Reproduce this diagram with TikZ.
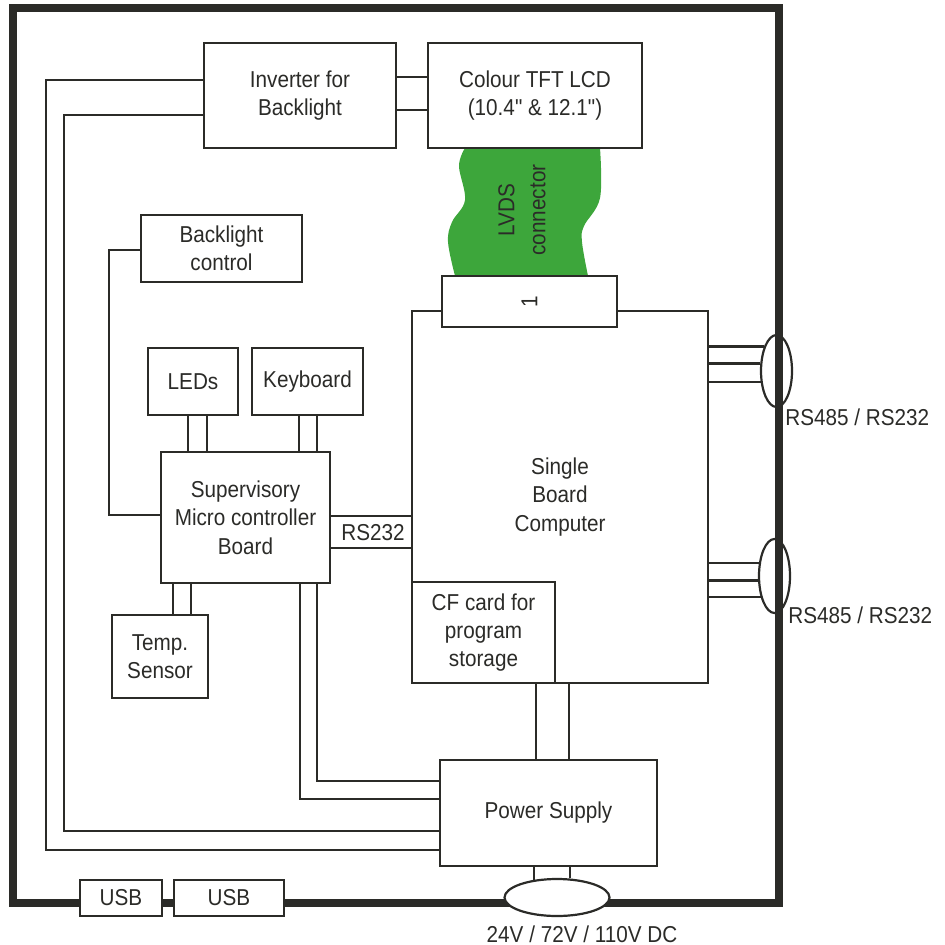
\documentclass[tikz,border=0pt]{standalone}
\usepackage{fontspec}
\setmainfont{Liberation Sans}[FakeStretch=0.9,Ligatures=TeXOff]
\usepackage{xcolor}
\usepackage{tikz}
\usetikzlibrary{positioning,shapes.geometric,calc}
\definecolor{ink}{RGB}{43,43,40}
\definecolor{lvdsgreen}{RGB}{61,166,59}
\tikzset{
block/.style={
draw=ink,
line width=1.1pt,
fill=white,
inner sep=0pt,
align=center,
text=ink,
font=\fontsize{11.5}{14.2}\selectfont
},
port/.style={
draw=ink,
line width=1.1pt,
ellipse,
inner sep=0pt
},
wire/.style={
draw=ink,
line width=1.1pt
},
frame/.style={
draw=ink,
line width=4pt
},
tag/.style={
text=ink,
inner sep=0pt,
align=center,
font=\fontsize{11.5}{14.2}\selectfont
}
}
\begin{document}
\begin{tikzpicture}[x=0.5pt,y=-0.5pt]
\useasboundingbox (0,0) rectangle (944,945);
\draw[frame] (13,8) rectangle (779,903);

\fill[lvdsgreen] plot[smooth,tension=0.6] coordinates {(465,148) (459,166) (465,200) (452,222) (448,242) (455,276)}
 -- plot[smooth,tension=0.6] coordinates {(588,276) (582,242) (584,226) (600,198) (600,148)} -- cycle;
\node[tag,rotate=90,font=\fontsize{11.5}{15.5}\selectfont] (lvds) at (522,210) {LVDS\\connector};

\node[block,minimum width=96pt,minimum height=52.5pt] (inv) at (300,95.5) {Inverter for\\Backlight};
\node[block,minimum width=107pt,minimum height=52.5pt] (lcd) at (535,95.5) {Colour TFT LCD\\(10.4" \& 12.1")};
\node[block,minimum width=80.5pt,minimum height=33.5pt] (blc) at (221.5,248.5) {Backlight\\control};
\node[block,minimum width=45pt,minimum height=33.5pt] (leds) at (193,381.5) {LEDs};
\node[block,minimum width=55.5pt,minimum height=33.5pt] (kbd) at (307.5,381.5) {Keyboard};
\node[block,minimum width=84.5pt,minimum height=65.5pt] (mcb) at (245.5,517.5) {Supervisory\\Micro controller\\Board};
\node[block,minimum width=48pt,minimum height=41.5pt] (temp) at (160,656.5) {Temp.\\Sensor};
\node[block,minimum width=148pt,minimum height=186pt] (sbc) at (560,497) {Single\\Board\\Computer};
\node[block,minimum width=71.5pt,minimum height=50.5pt] (cf) at (483.5,632.5) {CF card for\\program\\storage};
\node[block,minimum width=87.5pt,minimum height=25.5pt] (conn) at (529.5,301.5) {\rotatebox{90}{1}};
\node[block,minimum width=108.5pt,minimum height=53pt] (ps) at (548.5,813) {Power Supply};
\node[block,minimum width=41pt,minimum height=18pt] (usba) at (121,898) {USB};
\node[block,minimum width=55pt,minimum height=18pt] (usbb) at (229,898) {USB};

\node[port,minimum width=15.5pt,minimum height=36pt] (rsa) at (776.5,371) {};
\node[port,minimum width=15.5pt,minimum height=37pt] (rsb) at (774.5,576) {};
\node[port,fill=white,minimum width=52.5pt,minimum height=18.5pt] (pe) at (557,897.5) {};

\node[tag,anchor=west] (rsalabel) at (785,417) {RS485 / RS232};
\node[tag,anchor=west] (rsblabel) at (788,615) {RS485 / RS232};
\node[tag] (dclabel) at (582,934) {24V / 72V / 110V DC};
\node[tag] (rslabel) at (373,533) {RS232};

\draw[wire] (inv.west |- 0,80) -| (46,850) -- (ps.west |- 0,850);
\draw[wire] (inv.west |- 0,115) -| (64,831) -- (ps.west |- 0,831);
\draw[wire] (blc.west |- 0,250) -| (109,515) -- (mcb.west |- 0,515);
\draw[wire] (mcb.south -| 300,0) |- (ps.west |- 0,799);
\draw[wire] (mcb.south -| 317,0) |- (ps.west |- 0,781);

\foreach \y in {77,110}
\draw[wire] (inv.east |- 0,\y) -- (lcd.west |- 0,\y);
\foreach \y in {516,548}
\draw[wire] (mcb.east |- 0,\y) -- (sbc.west |- 0,\y);
\foreach \x in {188,207}
\draw[wire] (leds.south -| \x,0) -- (mcb.north -| \x,0);
\foreach \x in {299,317}
\draw[wire] (kbd.south -| \x,0) -- (mcb.north -| \x,0);
\foreach \x in {173,191}
\draw[wire] (mcb.south -| \x,0) -- (temp.north -| \x,0);
\foreach \x in {536,569}
\draw[wire] (sbc.south -| \x,0) -- (ps.north -| \x,0);
\foreach \a in {142,56}
\draw[wire] (ps.south -| pe.\a) -- (pe.\a);
\foreach \a in {117,155,214}
\draw[wire] (sbc.east |- rsa.\a) -- (rsa.\a);
\foreach \a in {141,195,237}
\draw[wire] (sbc.east |- rsb.\a) -- (rsb.\a);
\end{tikzpicture}
\end{document}
